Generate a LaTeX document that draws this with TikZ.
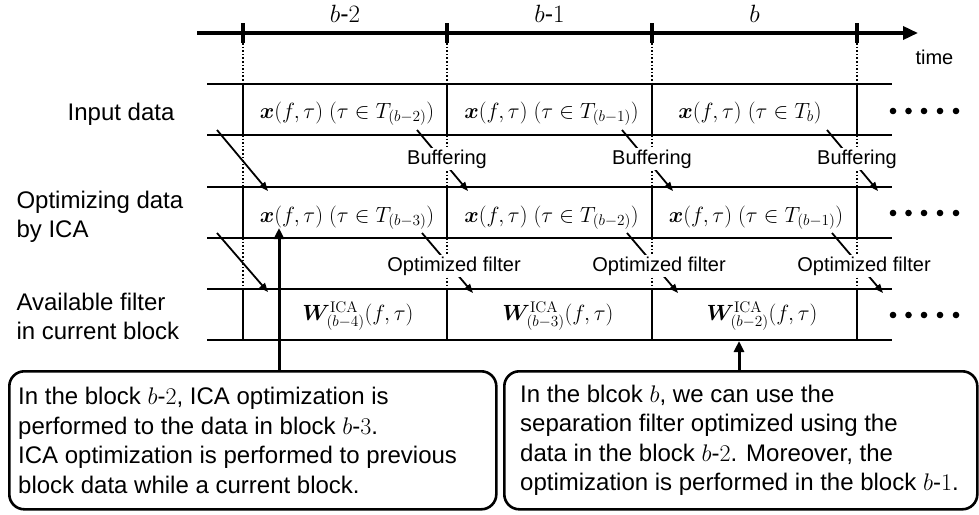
\RequirePackage{fix-cm}
\documentclass[tikz,border=0pt]{standalone}
\usepackage{amsmath}
\usepackage{bm}
\usepackage[no-math]{fontspec}
\setmainfont{Liberation Sans}
\usetikzlibrary{arrows.meta}

\tikzset{
  gridline/.style={line width=2pt},
  guide/.style={line width=1.6pt, dotted},
  feed/.style={line width=1.8pt, -{Triangle[length=9pt,width=7pt]}},
  lift/.style={line width=3pt, -{Triangle[length=11pt,width=10pt]}},
  steplabel/.style={font=\fontsize{20}{24}\selectfont, fill=white, inner sep=1.5pt},
  cellmath/.style={font=\fontsize{22}{26}\selectfont, anchor=base},
  rowtitle/.style={font=\fontsize{24}{29}\selectfont, align=left},
  notebox/.style={draw, line width=2.6pt, rounded corners=15pt, inner sep=0pt, anchor=north west},
  notetext/.style={font=\fontsize{24}{29.5}\selectfont, align=left, inner sep=0pt, anchor=west},
  dotmark/.style={circle, fill, inner sep=0pt, minimum size=6.6pt},
}

\begin{document}
\begin{tikzpicture}[x=1pt, y=-1pt]
  \useasboundingbox (0,0) rectangle (979,514);

  % time axis with block ticks
  \coordinate (axs) at (197,33);
  \coordinate (axe) at (918,33);
  \draw[line width=3.5pt, -{Triangle[length=15pt,width=13pt]}] (axs) -- (axe);
  \node[font=\fontsize{20}{24}\selectfont, anchor=base west] (tlabel) at (912,64) {time};
  \foreach \bx in {243,447,652,857}{
    \draw[line width=3.5pt] (\bx,23) -- (\bx,43);
    \draw[guide] (\bx,43) -- (\bx,84);
    \draw[guide] (\bx,135) -- (\bx,187);
    \draw[guide] (\bx,238) -- (\bx,289);
    \draw[gridline] (\bx,84) -- (\bx,135);
    \draw[gridline] (\bx,187) -- (\bx,238);
    \draw[gridline] (\bx,289) -- (\bx,340);
  }
  \node[font=\fontsize{25}{30}\selectfont, anchor=base] (blk2) at (345,23) {$b$-$2$};
  \node[font=\fontsize{25}{30}\selectfont, anchor=base] (blk1) at (549.5,23) {$b$-$1$};
  \node[font=\fontsize{25}{30}\selectfont, anchor=base] (blk0) at (754.5,23) {$b$};

  % row rules
  \foreach \ry in {84,135,187,238,289,340}{
    \draw[gridline] (207,\ry) -- (892,\ry);
  }

  % row titles
  \node[rowtitle, anchor=base east] (tin) at (178,120) {Input data};
  \node[rowtitle, anchor=west] (topt) at (13,217) {Optimizing data\\by ICA};
  \node[rowtitle, anchor=west] (tfil) at (13,316) {Available filter\\in current block};

  % cell contents
  \node[cellmath] (in1) at (347,118) {$\bm{x}(f,\tau)\ (\tau\in T_{(b-2)})$};
  \node[cellmath] (in2) at (551.5,118) {$\bm{x}(f,\tau)\ (\tau\in T_{(b-1)})$};
  \node[cellmath] (in3) at (750,118) {$\bm{x}(f,\tau)\ (\tau\in T_{b})$};
  \node[cellmath] (op1) at (347,222) {$\bm{x}(f,\tau)\ (\tau\in T_{(b-3)})$};
  \node[cellmath] (op2) at (551.5,222) {$\bm{x}(f,\tau)\ (\tau\in T_{(b-2)})$};
  \node[cellmath] (op3) at (756,222) {$\bm{x}(f,\tau)\ (\tau\in T_{(b-1)})$};
  \node[cellmath] (fl1) at (358,320) {$\bm{W}^{\mathrm{ICA}}_{(b-4)}(f,\tau)$};
  \node[cellmath] (fl2) at (558,320) {$\bm{W}^{\mathrm{ICA}}_{(b-3)}(f,\tau)$};
  \node[cellmath] (fl3) at (762,320) {$\bm{W}^{\mathrm{ICA}}_{(b-2)}(f,\tau)$};

  % continuation dots
  \foreach \ry [count=\r] in {111,213,315}{
    \foreach \dx [count=\k] in {893,908.5,924,940,956}{
      \node[dotmark] (dot\r\k) at (\dx,\ry) {};
    }
  }

  % buffering: input data -> optimizing data
  \coordinate (bs0) at (217,130); \coordinate (be0) at (268,191);
  \draw[feed] (bs0) -- (be0);
  \foreach \bx [count=\i] in {447,652,857}{
    \coordinate (bs\i) at (\bx-30,130);
    \coordinate (be\i) at (\bx+21,191);
    \draw[feed] (bs\i) -- (be\i);
    \node[steplabel] (buf\i) at (\bx,159) {Buffering};
  }

  % optimized filter: optimizing data -> available filter
  \coordinate (fs0) at (217,233); \coordinate (fe0) at (268,292);
  \draw[feed] (fs0) -- (fe0);
  \foreach \bx [count=\i] in {447,652,857}{
    \coordinate (fs\i) at (\bx-25,233);
    \coordinate (fe\i) at (\bx+26,293);
    \draw[feed] (fs\i) -- (fe\i);
    \node[steplabel] (opt\i) at (\bx+7,266) {Optimized filter};
  }

  % explanatory notes
  \node[notebox, minimum width=487pt, minimum height=138pt] (lbox) at (8,370) {};
  \node[notetext] (ltext) at ([xshift=10pt]lbox.west) {In the block $b$-$2$, ICA optimization is\\
performed to the data in block $b$-$3$.\\
ICA optimization is performed to previous\\
block data while a current block.};
  \node[notebox, minimum width=473pt, minimum height=138pt] (rbox) at (503,370) {};
  \node[notetext] (rtext) at ([xshift=17pt]rbox.west) {In the blcok $b$, we can use the\\
separation filter optimized using the\\
data in the block $b$-$2$. Moreover, the\\
optimization is performed in the block $b$-$1$.};

  \coordinate (ltip) at (279,228);
  \coordinate (rtip) at (739,341);
  \draw[lift] (lbox.north -| ltip) -- (ltip);
  \draw[lift] (rbox.north -| rtip) -- (rtip);
\end{tikzpicture}
\end{document}
